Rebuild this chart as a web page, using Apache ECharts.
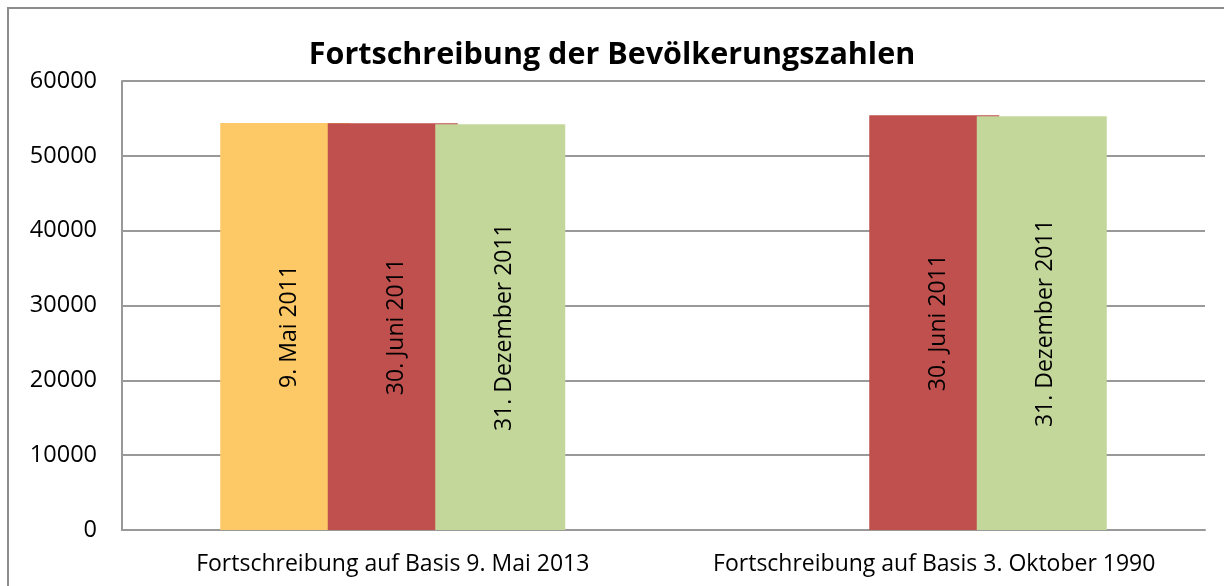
<!DOCTYPE html>
<html>
<head>
<meta charset="utf-8">
<script src="https://cdn.jsdelivr.net/npm/echarts@6/dist/echarts.min.js"></script>
<style>
  html, body { margin: 0; padding: 0; background: #fff; }
  #container { width: 1224px; height: 586px; }
</style>
</head>
<body>
<div id="container"></div>
<script>
// Daten
var categories = ["Fortschreibung auf Basis 9. Mai 2013", "Fortschreibung auf Basis 3. Oktober 1990"];
var seriesNames = ["9. Mai 2011", "30. Juni 2011", "31. Dezember 2011"];
var mai2011 = [54400, null];
var juni2011 = [54360, 55420];
var dez2011 = [54210, 55290];
var yTicks = [0, 10000, 20000, 30000, 40000, 50000, 60000];

var colors = ["#fdc966", "#c0504d", "#c4d79b"];
var font = "'Open Sans', sans-serif";

var myChart = echarts.init(document.getElementById("container"));

function makeSeries(name, data, color) {
  return {
    name: name,
    type: "bar",
    data: data,
    barWidth: 130,
    barGap: "-17.3%",
    itemStyle: { color: color },
    label: {
      show: true,
      position: "inside",
      rotate: 90,
      offset: [0, 4],
      formatter: "{a}",
      color: "#000",
      fontSize: 23,
      fontFamily: font
    }
  };
}

myChart.setOption({
  animation: false,
  title: {
    text: "Fortschreibung der Bevölkerungszahlen",
    left: "center",
    top: 35,
    textStyle: { fontSize: 30.5, fontWeight: "bold", color: "#000", fontFamily: font }
  },
  graphic: [
    {
      type: "rect",
      shape: { x: 8, y: 8, width: 1240, height: 600 },
      style: { fill: "none", stroke: "#8c8c8c", lineWidth: 2 },
      silent: true
    }
  ],
  grid: { left: 122, right: 19, top: 81, bottom: 56 },
  xAxis: {
    type: "category",
    data: categories,
    axisTick: { show: false },
    axisLine: { lineStyle: { color: "#999", width: 2 } },
    axisLabel: { color: "#000", fontSize: 23, fontFamily: font, margin: 23, interval: 0 }
  },
  yAxis: {
    type: "value",
    min: yTicks[0],
    max: yTicks[yTicks.length - 1],
    interval: 10000,
    axisLine: { show: true, lineStyle: { color: "#999", width: 2 } },
    axisTick: { show: false },
    axisLabel: {
      color: "#000",
      fontSize: 23.5,
      fontFamily: font,
      margin: 25,
      formatter: function (v) { return String(v); }
    },
    splitLine: { show: true, lineStyle: { color: "#999", width: 2 } }
  },
  series: [
    makeSeries(seriesNames[0], mai2011, colors[0]),
    makeSeries(seriesNames[1], juni2011, colors[1]),
    makeSeries(seriesNames[2], dez2011, colors[2])
  ]
});
</script>
</body>
</html>
